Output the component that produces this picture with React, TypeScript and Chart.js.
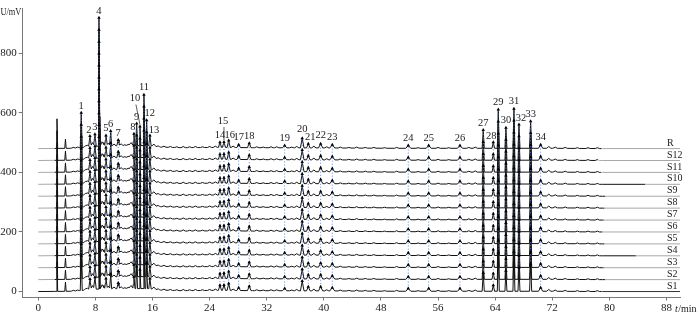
import React, { useEffect, useRef } from "react";
import { Chart, registerables } from "chart.js";

Chart.register(...registerables);

// ---------- data ----------
const sampleNames = ["S1", "S2", "S3", "S4", "S5", "S6", "S7", "S8", "S9", "S10", "S11", "S12", "R"];
const sampleOffsets = [0, 40, 80, 120, 160, 200, 240, 280, 320, 360, 400, 440, 480];
// time (min) where the black trace ends and the grey tail begins
const traceEndTimes = [78.9, 79.4, 79.2, 83.7, 79.3, 79.0, 79.2, 79.3, 79.4, 85.0, 78.8, 78.4, 78.9];

// numbered peaks: retention time (min) and apex height (mV above the trace offset)
const peakNumbers = [1, 2, 3, 4, 5, 6, 7, 8, 9, 10, 11, 12, 13, 14, 15, 16, 17, 18, 19, 20, 21, 22, 23, 24, 25, 26, 27, 28, 29, 30, 31, 32, 33, 34];
const peakTimes = [6.02, 7.24, 7.94, 8.5, 9.48, 10.14, 11.2, 13.4, 13.78, 14.24, 14.8, 15.18, 15.64, 25.45, 26.01, 26.67, 28.07, 29.55, 34.51, 36.97, 37.82, 39.55, 41.18, 51.82, 54.68, 59.06, 62.32, 63.73, 64.43, 65.5, 66.62, 67.33, 68.96, 70.36];
const peakHeights = [120, 42, 48, 439, 44, 59, 29, 50, 84, 74, 181, 95, 44, 21, 22, 27, 13, 18, 10, 35, 16, 16, 13, 10, 10, 10, 62, 21, 131, 70, 134, 81, 92, 13];
const peakHalfWidths = [0.14, 0.18, 0.18, 0.13, 0.18, 0.14, 0.2, 0.15, 0.13, 0.13, 0.13, 0.13, 0.17, 0.22, 0.22, 0.22, 0.25, 0.25, 0.3, 0.25, 0.25, 0.3, 0.35, 0.35, 0.35, 0.35, 0.15, 0.18, 0.14, 0.14, 0.14, 0.14, 0.15, 0.3];

// un-numbered peaks
const minorPeakTimes = [2.62, 3.81, 4.9, 5.5, 6.6, 6.9, 7.6, 8.9, 9.1, 9.8, 10.6, 11.6, 12.1, 12.6, 13.0, 16.2, 16.8, 17.6, 18.5, 19.4, 20.3, 21.2, 22.0, 23.0, 24.0, 24.8, 27.3, 30.6, 31.5, 32.6, 33.4, 35.5, 36.2, 38.6, 40.4, 42.3, 43.5, 44.6, 45.8, 47.0, 48.5, 50.2, 53.2, 56.0, 57.5, 60.3, 61.2, 71.5, 72.4, 73.8, 75.5, 77.0, 78.3];
const minorPeakHeights = [100, 32, 4, 5, 9, 11, 20, 20, 16, 18, 15, 16, 13, 14, 20, 15, 9, 8, 7, 6, 7, 6, 7, 6, 7, 8, 8, 6, 5, 6, 6, 5, 7, 8, 6, 5, 4, 5, 4, 4, 3, 4, 3, 4, 3, 4, 5, 7, 5, 4, 3, 3, 3];

// slowly drifting baseline
const baselineTimes = [0, 4.5, 6.5, 8, 12, 15.5, 17, 20, 26, 30, 42, 50, 62, 72, 79, 90];
const baselineValues = [0, 1, 4, 8, 10, 10, 5, 3, 4, 3, 2, 1, 1, 1, 0, 0];

const xTickValues = [0, 8, 16, 24, 32, 40, 48, 56, 64, 72, 80, 88];
const yTickValues = [0, 200, 400, 600, 800];

// ---------- styling ----------
const FONT = "'Liberation Serif', 'DejaVu Serif', serif";
const labelOffsets: Record<number, [number, number]> = {
  2: [-1, -6], 3: [0, -7], 8: [-1, -6], 9: [0, -6], 12: [3, -7], 13: [4, -5],
  16: [1, -5], 20: [0, -9], 21: [2, -7], 22: [0, -9], 28: [-2, -6], 32: [2, -6],
};
const leaderLabels: Record<number, [number, number]> = { 10: [-5, -28], 15: [-1, -21] };

function baselineAt(t: number) {
  for (let i = 0; i < baselineTimes.length - 1; i++) {
    const a = baselineTimes[i], b = baselineTimes[i + 1];
    if (t >= a && t <= b) {
      return baselineValues[i] + ((baselineValues[i + 1] - baselineValues[i]) * (t - a)) / (b - a);
    }
  }
  return 0;
}

type Pk = { t: number; h: number; w: number };
const allPeaks: Pk[] = [
  ...peakTimes.map((t, i) => ({ t, h: peakHeights[i], w: peakHalfWidths[i] })),
  ...minorPeakTimes.map((t, i) => ({ t, h: minorPeakHeights[i], w: i < 2 ? 0.1 : 0.3 })),
];

function traceValue(t: number) {
  let v = baselineAt(t);
  for (const p of allPeaks) {
    const d = Math.abs(t - p.t);
    if (d < p.w) v += Math.max(0, p.h - baselineAt(p.t)) * (1 - d / p.w);
  }
  return v;
}

function buildTrace(si: number) {
  const set = new Set<number>();
  baselineTimes.forEach((t) => set.add(t));
  allPeaks.forEach((p) => {
    set.add(+(p.t - p.w).toFixed(3));
    set.add(p.t);
    set.add(+(p.t + p.w).toFixed(3));
  });
  set.add(2.3);
  set.add(traceEndTimes[si]);
  set.add(89.88);
  const times = Array.from(set).filter((t) => t >= 0 && t <= 89.88).sort((a, b) => a - b);
  return times.map((t) => ({ x: t, y: sampleOffsets[si] + traceValue(t) }));
}

export default function App() {
  const ref = useRef<HTMLCanvasElement | null>(null);

  useEffect(() => {
    if (!ref.current) return;

    const traceSets = sampleNames.map((name, si) => ({
      type: "line" as const,
      label: name,
      data: buildTrace(si),
      borderColor: "#111",
      borderWidth: 1,
      pointRadius: 0,
      tension: 0,
      order: 2,
      segment: {
        borderColor: (ctx: any) => {
          if (ctx.p0.parsed.x >= traceEndTimes[si] - 1e-6) return si === 0 ? "#333" : "#a8a8a8";
          if (si > 0 && ctx.p1.parsed.x <= 2.3 + 1e-6) return "#a8a8a8";
          return "#111";
        },
      },
    }));

    const connectorSets = peakTimes.map((t, pi) => ({
      type: "line" as const,
      label: "c" + peakNumbers[pi],
      data: sampleOffsets.map((o) => ({ x: t, y: o + peakHeights[pi] })),
      borderColor: "rgba(80,120,200,0.9)",
      borderWidth: 1,
      borderDash: [1, 2],
      pointRadius: 0,
      order: 1,
    }));

    const markerSet = {
      type: "line" as const,
      label: "markers",
      data: sampleOffsets.flatMap((o) => peakTimes.map((t, pi) => ({ x: t, y: o + peakHeights[pi] }))),
      showLine: false,
      pointStyle: "triangle",
      pointRadius: 2,
      pointBackgroundColor: "#000",
      pointBorderColor: "#000",
      pointBorderWidth: 0,
      order: 0,
    };

    const textPlugin = {
      id: "texts",
      afterDraw(chart: any) {
        const c = chart.ctx as CanvasRenderingContext2D;
        const xs = chart.scales.x, ys = chart.scales.y;
        c.save();
        c.fillStyle = "#222";
        // axis titles
        c.save();
        c.font = `11px ${FONT}`;
        c.textAlign = "left";
        c.textBaseline = "middle";
        c.translate(0.5, 12);
        c.scale(0.76, 1);
        c.fillText("U/mV", 0, 0);
        c.restore();

        c.textAlign = "left";
        c.textBaseline = "middle";
        c.font = `italic 10px ${FONT}`;
        c.fillText("t", 675, 309);
        const tw = c.measureText("t").width;
        c.font = `10px ${FONT}`;
        c.fillText("/min", 675 + tw + 0.5, 309);

        // sample labels at the right
        c.textBaseline = "bottom";
        sampleNames.forEach((n, si) => {
          const y = ys.getPixelForValue(sampleOffsets[si]);
          c.fillText(n, 667, y - 0.5);
        });

        // peak numbers above the R trace
        const rOff = sampleOffsets[sampleOffsets.length - 1];
        c.textAlign = "center";
        c.textBaseline = "middle";
        c.strokeStyle = "#333";
        c.lineWidth = 0.8;
        c.font = `10.5px ${FONT}`;
        peakNumbers.forEach((num, pi) => {
          const ax = xs.getPixelForValue(peakTimes[pi]);
          const ay = ys.getPixelForValue(rOff + peakHeights[pi]);
          if (leaderLabels[num]) {
            const [dx, dy] = leaderLabels[num];
            c.fillText(String(num), ax + dx, ay + dy);
            c.beginPath();
            c.moveTo(ax + dx + 1, ay + dy + 6);
            c.lineTo(ax, ay - 2);
            c.stroke();
          } else {
            const [dx, dy] = labelOffsets[num] || [0, -7];
            c.fillText(String(num), ax + dx, ay + dy);
          }
        });
        c.restore();
      },
    };

    const chart = new Chart(ref.current, {
      type: "line",
      data: { datasets: [markerSet as any, ...connectorSets, ...traceSets] },
      options: {
        animation: false,
        responsive: false,
        maintainAspectRatio: false,
        parsing: false as any,
        normalized: true,
        layout: { padding: { top: 3, right: 20, left: 0, bottom: 0 } },
        plugins: { legend: { display: false }, tooltip: { enabled: false } },
        scales: {
          x: {
            type: "linear",
            min: -2.18,
            max: 89.88,
            afterBuildTicks: (s: any) => {
              s.ticks = xTickValues.map((v) => ({ value: v }));
            },
            afterFit: (s: any) => {
              s.height = 16.5;
            },
            grid: { drawOnChartArea: false, drawTicks: true, tickLength: 3, color: "#777" },
            border: { display: true, color: "#777", width: 1 },
            ticks: {
              autoSkip: false,
              maxRotation: 0,
              padding: 1,
              color: "#222",
              font: { family: FONT, size: 11 },
              callback: (v: any) => String(v),
            },
          },
          y: {
            type: "linear",
            min: -20,
            max: 950,
            afterBuildTicks: (s: any) => {
              s.ticks = yTickValues.map((v) => ({ value: v }));
            },
            afterFit: (s: any) => {
              s.width = 22.7;
            },
            grid: { drawOnChartArea: false, drawTicks: true, tickLength: 4, color: "#777" },
            border: { display: true, color: "#777", width: 1 },
            ticks: {
              padding: 2,
              color: "#222",
              font: { family: FONT, size: 11 },
              callback: (v: any) => String(v),
            },
          },
        },
      },
      plugins: [textPlugin],
    });

    return () => chart.destroy();
  }, []);

  return (
    <div style={{ position: "fixed", left: 0, top: 0, width: 700, height: 314, background: "#fff" }}>
      <canvas ref={ref} width={700} height={314} style={{ width: 700, height: 314, display: "block" }} />
    </div>
  );
}
